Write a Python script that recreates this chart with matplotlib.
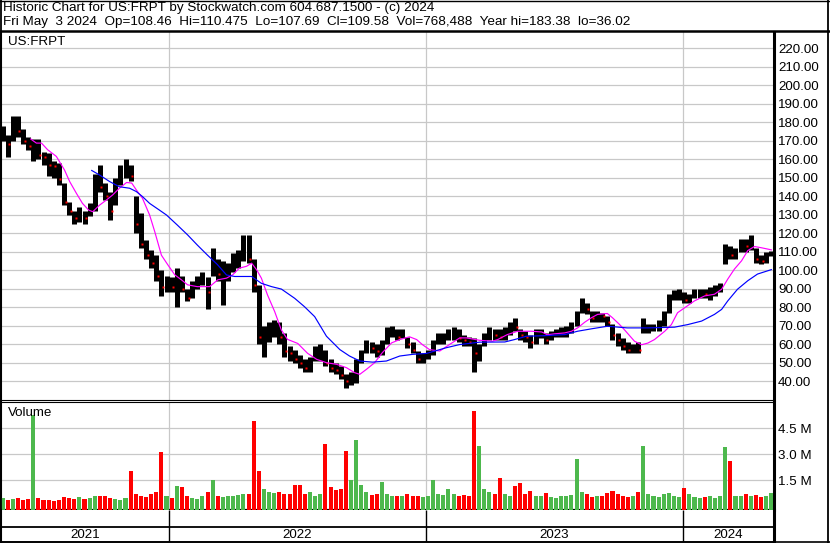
import numpy as np
import matplotlib
matplotlib.use('Agg')
import matplotlib.pyplot as plt
from matplotlib.lines import Line2D

plt.rcParams['font.family'] = ['Liberation Sans', 'DejaVu Sans']

TITLE = 'Historic Chart for US:FRPT by Stockwatch.com 604.687.1500 - (c) 2024'
INFO = 'Fri May  3 2024  Op=108.46  Hi=110.475  Lo=107.69  Cl=109.58  Vol=768,488  Year hi=183.38  lo=36.02'
SYMBOL = 'US:FRPT'

# weekly bars, early May 2021 -> May 3 2024
high = [178, 173, 183.38, 183, 176, 172, 171, 171, 164, 163,
        159, 158, 147, 137, 132, 134, 132, 136, 152, 157,
        147, 142, 150, 157, 160, 157, 140, 131, 116, 111,
        108, 100, 97, 96, 101, 97, 90, 94, 97, 99,
        96, 112, 106, 105, 104, 109, 111, 119, 119, 106,
        92, 70, 72, 73, 72, 66, 59, 57, 54, 52,
        53, 59, 60, 57, 52, 50, 48, 44, 45, 52,
        57, 62, 61, 60, 62, 69, 70, 68, 68, 64,
        61, 56, 55, 57, 62, 66, 66, 68, 69, 68,
        65, 64, 63, 60, 66, 69, 68, 68, 69, 72,
        74, 68, 67, 65, 68, 68, 66, 67, 68, 69,
        70, 72, 78, 85, 82, 78, 78, 77, 75, 71,
        66, 63, 61, 60, 61, 74, 71, 71, 73, 78,
        87, 89, 90, 88, 87, 90, 90, 90, 91, 92,
        93, 114, 113, 112, 117, 117, 119, 112, 108, 110,
        110.475]
low = [170, 161, 170, 172, 168, 165, 159, 160, 157, 151,
       150, 146, 135, 130, 125, 126, 125, 129, 132, 142,
       138, 127, 135, 146, 150, 148, 120, 112, 106, 101,
       94, 86, 88, 88, 80, 88, 83, 85, 90, 92,
       79, 97, 94, 81, 94, 99, 101, 105, 104, 88,
       60, 53, 61, 64, 60, 53, 51, 50, 47, 45,
       45, 51, 51, 48, 45, 44, 41, 36.02, 38, 39,
       50, 55, 55, 53, 54, 60, 64, 62, 63, 58,
       55, 50, 50, 52, 54, 60, 60, 62, 62, 61,
       59, 59, 45, 51, 59, 62, 62, 62, 62, 65,
       67, 62, 61, 58, 60, 63, 60, 62, 64, 64,
       64, 66, 70, 77, 76, 72, 72, 72, 70, 62,
       59, 57, 55, 55, 55, 66, 66, 67, 67, 70,
       77, 84, 84, 82, 82, 85, 85, 85, 84, 86,
       88, 103, 106, 106, 110, 110, 111, 104, 103, 104,
       107.69]
close = [172, 168, 181, 175, 170, 167, 168, 162, 161, 157,
         156, 149, 137, 132, 128, 129, 128, 134, 150, 145,
         140, 132, 147, 155, 156, 151, 125, 114, 108, 104,
         97, 91, 93, 91, 95, 90, 85, 91, 95, 96,
         88, 104, 98, 98, 100, 106, 108, 114, 106, 92,
         64, 66, 68, 70, 64, 56, 55, 52, 50, 47,
         50, 55, 57, 50, 47, 46, 43, 40, 42, 50,
         55, 60, 58, 56, 59, 66, 67, 64, 66, 60,
         57, 52, 53, 55, 60, 63, 63, 65, 66, 63,
         62, 61, 55, 58, 64, 66, 65, 64, 66, 70,
         69, 65, 64, 61, 66, 66, 62, 65, 66, 67,
         67, 70, 76, 81, 79, 74, 76, 75, 72, 65,
         62, 59, 57, 58, 57, 68, 69, 69, 71, 76,
         84, 87, 88, 84, 85, 88, 88, 87, 88, 89,
         92, 110, 108, 110, 114, 113, 113, 106, 105, 107,
         109.58]
# volume in millions of shares
volume = [0.45, 0.35, 0.40, 0.45, 0.35, 0.40, 5.3, 0.45, 0.35, 0.35,
          0.30, 0.35, 0.50, 0.45, 0.40, 0.50, 0.40, 0.45, 0.60, 0.55,
          0.60, 0.45, 0.40, 0.35, 0.45, 2.0, 0.70, 0.55, 0.50, 0.70,
          0.80, 3.1, 0.55, 0.45, 1.15, 1.1, 0.60, 0.45, 0.40, 0.55,
          0.80, 1.5, 0.55, 0.50, 0.55, 0.60, 0.65, 0.70, 0.70, 4.9,
          2.0, 1.0, 0.80, 0.75, 0.80, 0.70, 0.70, 1.2, 1.2, 0.70,
          0.80, 0.60, 0.70, 3.6, 1.1, 0.90, 1.0, 3.2, 1.5, 3.8,
          1.2, 0.80, 0.65, 0.70, 1.4, 0.70, 0.60, 0.55, 0.60, 0.70,
          0.55, 0.60, 0.50, 0.55, 1.5, 0.70, 0.65, 1.0, 0.70, 0.60,
          0.65, 0.60, 5.5, 3.5, 0.95, 0.80, 0.70, 1.6, 0.70, 0.60,
          1.15, 1.3, 0.70, 0.85, 0.60, 0.55, 0.75, 0.50, 0.45, 0.55,
          0.60, 0.65, 2.7, 0.80, 0.70, 0.50, 0.55, 0.60, 0.75, 0.85,
          0.70, 0.60, 0.50, 0.55, 0.80, 3.5, 0.70, 0.55, 0.50, 0.70,
          0.75, 0.55, 0.50, 1.05, 0.70, 0.50, 0.45, 0.50, 0.60, 0.45,
          0.55, 3.4, 2.6, 0.55, 0.60, 0.70, 0.55, 0.65, 0.50, 0.55,
          0.77]

# moving averages (x in weeks)
fast_x = [5.5, 6.6, 7.6, 8.8, 10.5, 12.1, 13.1, 14.4, 15.6, 16.8,
          17.6, 18.9, 20.3, 21.5, 22.8, 24.2, 25.2, 26.1, 27.3, 28.7,
          29.7, 31.0, 32.2, 33.6, 34.9, 36.1, 38.0, 40.4, 42.0, 43.7,
          44.9, 46.2, 47.6, 48.6, 49.6, 50.5, 51.7, 53.1, 54.4, 55.6,
          57.6, 59.5, 61.3, 63.2, 65.2, 67.1, 68.7, 69.7, 71.0, 72.6,
          74.1, 75.9, 77.5, 79.4, 80.8, 81.9, 83.3, 85.3, 87.2, 89.2,
          90.5, 93.1, 95.6, 96.6, 98.5, 100.5, 103.2, 105.2, 106.3, 107.7,
          109.7, 111.0, 112.2, 113.6, 114.9, 116.1, 118.0, 119.0, 120.4, 121.4,
          123.3, 124.7, 125.9, 127.2, 129.2, 130.5, 131.7, 133.1, 135.0, 137.0,
          138.9, 140.3, 141.5, 142.8, 144.2, 145.4, 146.7, 148.1, 150.0]
fast_y = [170.8, 168.6, 168.6, 165.0, 161.4, 154.0, 147.8, 141.5, 136.0, 132.4,
          131.5, 135.0, 137.9, 140.6, 144.2, 147.3, 147.0, 143.3, 138.8, 129.7,
          120.7, 108.0, 103.0, 97.4, 94.7, 92.0, 91.0, 91.0, 94.7, 95.6,
          97.4, 101.0, 102.0, 103.7, 100.0, 95.6, 86.5, 77.5, 67.6, 62.5,
          60.3, 55.0, 51.7, 49.9, 49.0, 47.2, 44.5, 43.6, 46.3, 49.9,
          55.3, 60.6, 62.4, 63.9, 62.4, 59.7, 57.0, 56.2, 59.7, 63.3,
          63.3, 62.0, 61.5, 62.4, 65.1, 66.9, 66.9, 66.5, 65.0, 65.5,
          66.0, 66.9, 68.7, 71.8, 74.2, 76.0, 76.5, 74.2, 70.5, 67.5,
          61.5, 59.6, 60.5, 62.4, 66.9, 70.5, 76.9, 79.6, 83.3, 86.0,
          86.9, 89.6, 95.1, 100.5, 105.0, 110.5, 112.7, 112.0, 110.9]
slow_x = [17.4, 18.9, 20.9, 22.8, 24.8, 26.1, 27.3, 28.7, 30.6, 32.0,
          34.1, 36.1, 38.0, 40.0, 41.9, 43.7, 45.3, 48.6, 50.5, 52.5,
          54.4, 57.0, 58.9, 60.9, 63.2, 65.8, 67.7, 69.7, 72.2, 74.9,
          77.5, 80.0, 82.7, 86.6, 89.2, 93.1, 98.0, 99.9, 102.2, 105.8,
          109.7, 112.2, 114.9, 118.0, 121.9, 125.9, 131.1, 133.7, 136.4, 138.9,
          140.3, 141.5, 143.4, 145.4, 147.3, 150.0]
slow_y = [153.8, 151.4, 147.8, 145.0, 144.2, 142.4, 139.7, 136.0, 132.4, 129.7,
          124.3, 119.0, 113.5, 108.0, 103.0, 97.3, 96.5, 96.5, 92.8, 91.0,
          89.7, 84.7, 80.2, 74.8, 64.2, 57.0, 53.5, 50.8, 50.2, 50.8,
          53.5, 54.4, 54.9, 58.0, 59.7, 61.0, 61.1, 62.4, 64.2, 64.5,
          65.1, 66.9, 68.2, 69.6, 68.7, 68.7, 69.1, 70.5, 72.4, 76.0,
          78.7, 83.3, 89.6, 94.2, 97.8, 100.2]

year_labels = ['2021', '2022', '2023', '2024']
year_starts = [32.57, 82.56, 132.71]   # week where each new year begins
price_ticks = list(range(40, 230, 10))
vol_ticks = [1.5, 3.0, 4.5]

W, H = 830, 543
GRID = '#c8c8c8'
GREEN = '#4db84d'
RED = '#ff0000'
FS = 9.7      # header
FS_AX = 9.6   # axis labels


def rect(l, t, r, b):
    return [l / W, 1 - b / H, (r - l) / W, (b - t) / H]


fig = plt.figure(figsize=(W / 100, H / 100), dpi=100, facecolor='white')

x = np.arange(len(close))
close_a = np.array(close)
xlim = (-0.30, 150.52)

# price panel
ax = fig.add_axes(rect(1, 31.5, 774, 400))
ax.vlines(x, low, high, color='black', lw=3.6, zorder=3)
down = np.r_[False, close_a[1:] < close_a[:-1]]
ax.plot(x[down] + 0.3, close_a[down], ls='none', marker='s', ms=1.5,
        color=RED, mec='none', zorder=4)
ax.plot(fast_x, fast_y, color='#ff00ff', lw=0.85, zorder=5)
ax.plot(slow_x, slow_y, color='#0000ff', lw=0.85, zorder=5)
ax.set_xlim(xlim)
ax.set_ylim(29.73, 228.92)
ax.set_yticks(price_ticks)
ax.set_yticklabels(['%.2f' % v for v in price_ticks])
ax.yaxis.tick_right()
ax.set_xticks(year_starts)
ax.set_xticklabels([])
ax.tick_params(length=0, labelsize=FS_AX, pad=3)
ax.grid(True, color=GRID, lw=0.9)
ax.set_axisbelow(True)
ax.spines['left'].set_linewidth(1.5)
ax.spines['right'].set_linewidth(2.2)
ax.spines['top'].set_visible(False)
ax.spines['bottom'].set_linewidth(0.8)

# volume panel
axv = fig.add_axes(rect(1, 402, 774, 509.8))
vcol = [GREEN] + [GREEN if close[i] >= close[i - 1] else RED for i in range(1, len(close))]
vbot = -0.229
axv.bar(x, np.array(volume) - vbot, bottom=vbot, width=0.8, color=vcol, lw=0, zorder=3)
axv.set_xlim(xlim)
axv.set_ylim(vbot, 6.026)
axv.set_yticks(vol_ticks)
axv.set_yticklabels(['%.1f M' % v for v in vol_ticks])
axv.yaxis.tick_right()
axv.set_xticks(year_starts)
axv.set_xticklabels([])
axv.tick_params(length=0, labelsize=FS_AX, pad=3)
axv.grid(True, color=GRID, lw=0.9)
axv.set_axisbelow(True)
axv.spines['left'].set_linewidth(1.5)
axv.spines['right'].set_linewidth(2.2)
axv.spines['top'].set_linewidth(0.8)
axv.spines['bottom'].set_linewidth(1.6)

# year strip
axy = fig.add_axes(rect(1, 509.8, 774, 542))
axy.set_xlim(xlim)
axy.set_ylim(0, 1)
axy.axhline(0.47, color='black', lw=1.3)
axy.vlines(year_starts, 0, 1, color='black', lw=1.0)
edges = [xlim[0]] + year_starts + [xlim[1]]
for i, lab in enumerate(year_labels):
    axy.text((edges[i] + edges[i + 1]) / 2, 0.22, lab, ha='center', va='center', fontsize=FS_AX)
axy.set_xticks([])
axy.set_yticks([])
axy.spines['left'].set_linewidth(1.5)
axy.spines['right'].set_linewidth(2.2)
axy.spines['top'].set_visible(False)
axy.spines['bottom'].set_linewidth(1.2)

# header, labels and outer frame
fig.text(3 / W, 1 - 8.5 / H, TITLE, fontsize=FS, va='center', ha='left')
fig.text(3 / W, 1 - 21.5 / H, INFO, fontsize=FS, va='center', ha='left')
fig.text(8 / W, 1 - 42 / H, SYMBOL, fontsize=FS_AX, va='center', ha='left')
fig.text(8 / W, 1 - 413 / H, 'Volume', fontsize=FS_AX, va='center', ha='left')

def fline(xs, ys, lw):
    fig.add_artist(Line2D([v / W for v in xs], [1 - v / H for v in ys],
                          color='black', lw=lw, transform=fig.transFigure))

fline([0, 830], [0.5, 0.5], 1.0)
fline([0, 830], [30.5, 30.5], 1.8)
fline([0, 830], [542, 542], 1.2)
fline([0.8, 0.8], [0, 543], 1.3)
fline([828, 828], [0, 543], 1.3)

fig.savefig('out.png', dpi=100, facecolor='white')
